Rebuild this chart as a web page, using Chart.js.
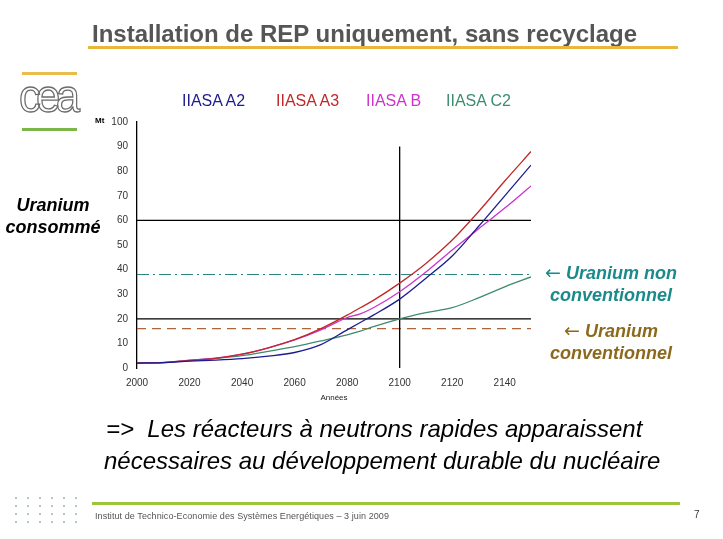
<!DOCTYPE html>
<html lang="fr">
<head>
<meta charset="utf-8">
<title>Installation de REP uniquement, sans recyclage</title>
<script src="https://cdn.jsdelivr.net/npm/chart.js@4.4.1/dist/chart.umd.min.js"></script>
<style>
  html, body { margin: 0; padding: 0; background: #fff; }
  body { width: 723px; height: 539px; position: relative; overflow: hidden; font-family: "Liberation Sans", Arial, sans-serif; }
  #uraniumChart { position: absolute; left: 0; top: 0; }
  .txt { position: absolute; white-space: nowrap; line-height: 1; }
  .rule { position: absolute; }
  .note { position: absolute; width: 180px; text-align: center; font-size: 18px; font-weight: bold; font-style: italic; line-height: 22px; }
  .arrow { font-family: "DejaVu Sans", sans-serif; font-weight: normal; font-style: normal; font-size: 19px; }
</style>
</head>
<body>
<canvas id="uraniumChart" width="723" height="539"></canvas>

<!-- slide furniture -->
<div class="txt" style="left:92px; top:22px; font-size:24px; font-weight:bold; color:#555;">Installation de REP uniquement, sans recyclage</div>
<div class="rule" style="left:88px; top:46px; width:590px; height:3px; background:#e8b83c;"></div>

<div class="rule" style="left:22px; top:72px; width:55px; height:3px; background:#e9bc4c;"></div>
<div class="txt" style="left:19px; top:73px; font-size:46px; color:#fff; -webkit-text-stroke:1.3px #6b6b6b; letter-spacing:-5px; transform:scaleX(0.95); transform-origin:left top;">cea</div>
<div class="rule" style="left:22px; top:128px; width:55px; height:3px; background:#7ab648;"></div>

<div class="note" style="left:-37px; top:194px; color:#000;">Uranium<br>consommé</div>

<div id="legend"></div>
<div class="txt" style="left:95px; top:117px; font-size:8px; font-weight:bold;">Mt</div>

<div class="note" style="left:521px; top:261px; color:#1b8a8a;"><span class="arrow">&larr;</span> Uranium non<br>conventionnel</div>
<div class="note" style="left:521px; top:319px; color:#8b6a1e;"><span class="arrow">&larr;</span> Uranium<br>conventionnel</div>

<div class="txt" style="left:106px; top:417px; font-size:24px; font-style:italic; color:#000;">=&gt;&nbsp; Les réacteurs à neutrons rapides apparaissent</div>
<div class="txt" style="left:104px; top:449px; font-size:24px; font-style:italic; color:#000;">nécessaires au développement durable du nucléaire</div>

<div class="rule" style="left:10px; top:494px; width:70px; height:32px; background-image:radial-gradient(circle, #b8c4c4 0.8px, transparent 1.2px); background-size:12px 8px;"></div>
<div class="rule" style="left:92px; top:502px; width:588px; height:3px; background:#9cc43c;"></div>
<div class="txt" style="left:95px; top:512px; font-size:9px; color:#555; letter-spacing:0.08px;">Institut de Technico-Economie des Systèmes Energétiques – 3 juin 2009</div>
<div class="txt" style="left:694px; top:510px; font-size:10px; color:#333;">7</div>

<script>
// Uranium consumed (Mt), one value per year below
const years = [2000, 2010, 2020, 2030, 2040, 2050, 2060, 2070, 2080, 2085, 2090, 2100, 2110, 2120, 2130, 2140, 2150];
const iiasaA2 = [2, 2.2, 2.8, 3.2, 3.8, 4.8, 6.3, 9.5, 15.5, 18.5, 21.5, 28, 36.5, 45.5, 57.5, 70, 82.5];
const iiasaA3 = [2, 2.2, 3, 3.9, 5.6, 8.2, 11.5, 16, 21.5, 24.5, 27.5, 34.5, 42.5, 52, 63.5, 76, 88];
const iiasaB  = [2, 2.2, 3.1, 4, 5.6, 8.2, 11.4, 15.5, 20.5, 22, 24.5, 31, 39, 48, 56.5, 65, 74];
const iiasaC2 = [2, 2.3, 3.2, 3.9, 5, 6.8, 8.7, 11, 13.5, 15, 16.8, 20, 22.5, 24.5, 28.5, 33, 37];

const seriesNames = ['IIASA A2', 'IIASA A3', 'IIASA B', 'IIASA C2'];
const seriesColors = ['#1c1c8e', '#c0282a', '#cc33cc', '#3d8c6e'];
const legendLeft = [182, 276, 366, 446];

// resource limits and guide lines (Mt / year)
const uraniumConventionnel = 16;
const uraniumNonConventionnel = 38;
const guideLevels = [20, 60];
const guideYear = 2100;
const guideYearTop = 90;

const xTickYears = [2000, 2020, 2040, 2060, 2080, 2100, 2120, 2140];
const yTickValues = [0, 10, 20, 30, 40, 50, 60, 70, 80, 90, 100];

const firstYear = years[0];
const lastYear = years[years.length - 1];

function toPoints(values) {
    return values.map((v, i) => ({ x: years[i], y: v }));
}

function flatLine(level) {
    return [{ x: firstYear, y: level }, { x: lastYear, y: level }];
}

// HTML legend, plain coloured text like the slide
const legendEl = document.getElementById('legend');
seriesNames.forEach((name, i) => {
    const span = document.createElement('div');
    span.className = 'txt';
    span.textContent = name;
    span.style.left = legendLeft[i] + 'px';
    span.style.top = '93px';
    span.style.fontSize = '16px';
    span.style.color = seriesColors[i];
    legendEl.appendChild(span);
});

const seriesData = [iiasaA2, iiasaA3, iiasaB, iiasaC2];
const curveSets = seriesData.map((values, i) => ({
    label: seriesNames[i],
    data: toPoints(values),
    borderColor: seriesColors[i],
    borderWidth: 1.3,
    pointRadius: 0,
    cubicInterpolationMode: 'monotone',
    fill: false
}));

const guideSets = [
    ...guideLevels.map(level => ({
        label: 'guide ' + level,
        data: flatLine(level),
        borderColor: '#000',
        borderWidth: 1.3,
        pointRadius: 0
    })),
    {
        label: 'guide ' + guideYear,
        data: [{ x: guideYear, y: 0 }, { x: guideYear, y: guideYearTop }],
        borderColor: '#000',
        borderWidth: 1.3,
        pointRadius: 0
    },
    {
        label: 'Uranium conventionnel',
        data: flatLine(uraniumConventionnel),
        borderColor: '#b0643a',
        borderWidth: 1.2,
        borderDash: [9, 6],
        pointRadius: 0
    },
    {
        label: 'Uranium non conventionnel',
        data: flatLine(uraniumNonConventionnel),
        borderColor: '#2a8484',
        borderWidth: 1.2,
        borderDash: [12, 4, 2, 4],
        pointRadius: 0
    }
];

const tickFont = { family: '"Liberation Sans", Arial, sans-serif', size: 10 };

new Chart(document.getElementById('uraniumChart'), {
    type: 'line',
    data: { datasets: [...curveSets, ...guideSets] },
    options: {
        responsive: false,
        animation: false,
        layout: { padding: { left: 90, right: 192, top: 122, bottom: 131 } },
        plugins: { legend: { display: false }, tooltip: { enabled: false } },
        scales: {
            x: {
                type: 'linear',
                min: firstYear,
                max: lastYear,
                afterBuildTicks: scale => { scale.ticks = xTickYears.map(v => ({ value: v })); },
                afterFit: scale => { scale.height = 40; },
                grid: { display: false, drawTicks: false },
                border: { display: false },
                ticks: { padding: 9, color: '#333', font: tickFont, maxRotation: 0, callback: v => String(v) },
                title: { display: true, text: 'Années', color: '#222', font: { family: tickFont.family, size: 8 }, padding: { top: 0, bottom: 5 } }
            },
            y: {
                min: 0,
                max: 100,
                afterBuildTicks: scale => { scale.ticks = yTickValues.map(v => ({ value: v })); },
                afterFit: scale => { scale.width = 47; },
                grid: { display: false, drawTicks: false },
                border: { display: true, color: '#000', width: 1.3 },
                ticks: { padding: 9, color: '#333', font: tickFont }
            }
        }
    }
});
</script>
</body>
</html>
